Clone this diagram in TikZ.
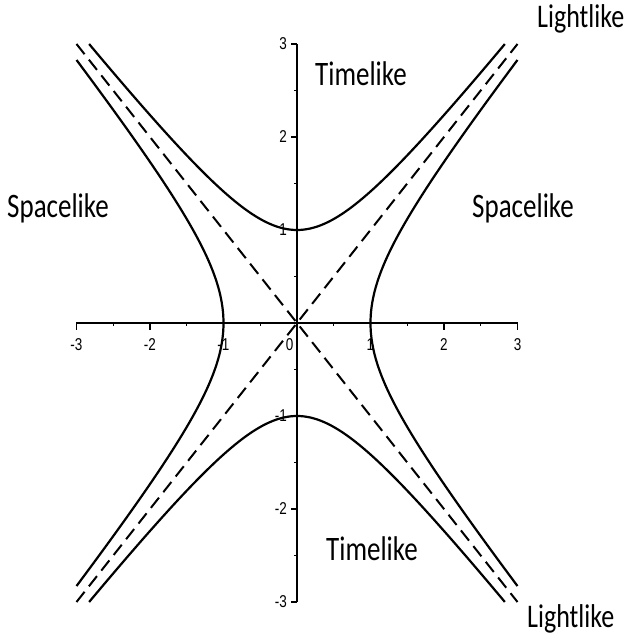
\documentclass[tikz,border=0pt]{standalone}
\usepackage{fontspec}
\setmainfont{Carlito}
\newfontfamily\tickfont{Liberation Sans}
\newcommand{\vstretch}[1]{\scalebox{1}[1.27]{#1}}
\begin{document}
\begin{tikzpicture}[x=73.5pt,y=93pt,
  curve/.style={line width=2.2pt},
  lightline/.style={line width=2pt, dash pattern=on 13pt off 7pt},
  axisline/.style={line width=1.1pt},
  region/.style={inner sep=0pt, anchor=base west, font=\fontsize{27}{27}\selectfont},
  lightlab/.style={inner sep=0pt, anchor=base west, font=\fontsize{26}{26}\selectfont},
  ticklab/.style={font=\tickfont\fontsize{13.5}{13.5}\selectfont, inner sep=0pt}]
\useasboundingbox (-297pt,-316pt) rectangle (334pt,323pt);
% axes
\draw[axisline] (-3,0) -- (3,0);
\draw[axisline] (0,-3) -- (0,3);
\foreach \i in {-3,...,3} \draw[axisline] (\i,0) -- ++(0,-7pt);
\foreach \i in {-2.5,-1.5,...,2.5} \draw[axisline] (\i,0) -- ++(0,-3.5pt);
\foreach \i in {-3,...,3} \draw[axisline] (0,\i) -- ++(-6pt,0);
\foreach \i in {-2.5,-1.5,...,2.5} \draw[axisline] (0,\i) -- ++(-3pt,0);
% tick labels
\foreach \i/\n in {-3/xm3,-2/xm2,-1/xm1,1/xp1,2/xp2,3/xp3}
  \node[ticklab] (\n) at ([yshift=-22pt]\i,0) {\vstretch{\i}};
\node[ticklab] (x0) at ([yshift=-22pt]-0.1,0) {\vstretch{0}};
\foreach \i/\n in {-3/ym3,-2/ym2,-1/ym1,1/yp1,2/yp2,3/yp3}
  \node[ticklab, anchor=east] (\n) at ([xshift=-10pt]0,\i) {\vstretch{\i}};
% light cone
\draw[lightline] (-3,-3) -- (3,3);
\draw[lightline] (-3,3) -- (3,-3);
% hyperbolas
\draw[curve] plot[domain=-2.8284:2.8284, samples=121, smooth] (\x, {sqrt(1+\x*\x)});
\draw[curve] plot[domain=-2.8284:2.8284, samples=121, smooth] (\x, {-sqrt(1+\x*\x)});
\draw[curve] plot[domain=-2.8284:2.8284, samples=121, smooth] ({sqrt(1+\x*\x)}, \x);
\draw[curve] plot[domain=-2.8284:2.8284, samples=121, smooth] ({-sqrt(1+\x*\x)}, \x);
% region labels
\node[region] (spl) at (-290pt,105pt) {\vstretch{Spacelike}};
\node[region] (spr) at (175pt,105pt) {\vstretch{Spacelike}};
\node[region] (tlt) at (18pt,237pt) {\vstretch{Timelike}};
\node[region] (tlb) at (29pt,-237pt) {\vstretch{Timelike}};
\node[lightlab] (llt) at (240pt,295pt) {\vstretch{Lightlike}};
\node[lightlab] (llb) at (230pt,-304pt) {\vstretch{Lightlike}};
\end{tikzpicture}
\end{document}
